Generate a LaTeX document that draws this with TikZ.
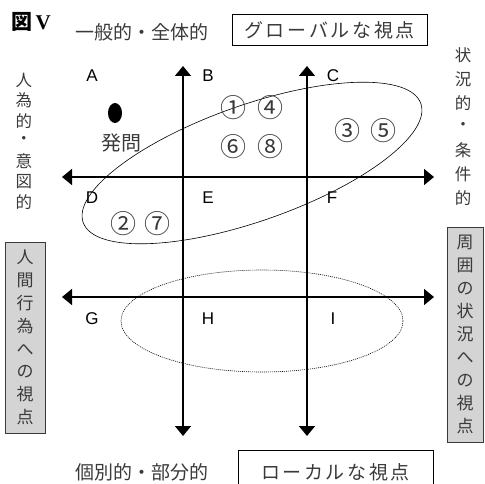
\documentclass[tikz,border=0pt]{standalone}
\usepackage{fontspec}
\setmainfont{Liberation Serif}
\setsansfont{Liberation Sans}
\newfontfamily\jp{Noto Sans CJK JP}
\newfontfamily\jpwide[LetterSpace=14]{Noto Sans CJK JP}
\usetikzlibrary{arrows.meta}

\definecolor{ink}{HTML}{3A3A3A}
\definecolor{panel}{HTML}{D4D4D4}
\definecolor{loop}{HTML}{555555}

\begin{document}
\begin{tikzpicture}[
  x=1pt, y=-1pt,
  axis/.style={line width=1.6pt, draw=black,
    {Triangle[length=10pt,width=16pt]}-{Triangle[length=10pt,width=16pt]}},
  cell/.style={font=\sffamily\fontsize{17}{17}\selectfont, text=black},
  num/.style={font=\jp\fontsize{26}{26}\selectfont, text=ink, inner sep=0pt},
  caption/.style={font=\jp\fontsize{19}{19}\selectfont, text=ink},
  tategaki/.style={font=\jp\fontsize{16.5}{16.5}\selectfont, text=ink, inner sep=0pt},
  frame/.style={draw=black, line width=1pt, inner sep=0pt,
    font=\jpwide\fontsize{19}{19}\selectfont, text=ink},
  side/.style={draw=ink, fill=panel, line width=0.9pt, inner sep=0pt, align=center, text=ink}
]
\useasboundingbox (0,0) rectangle (485,484);
\clip (0,0) rectangle (485,484);

% axis end points
\coordinate (v1t) at (183,66);
\coordinate (v1b) at (183,436);
\coordinate (v2t) at (307,66);
\coordinate (v2b) at (307,436);
\coordinate (h1l) at (62,177);
\coordinate (h1r) at (434,177);
\coordinate (h2l) at (62,297);
\coordinate (h2r) at (434,297);

% grouping ellipses
\draw[loop, line width=0.6pt, rotate around={19.4:(252,163)}] (252,163) ellipse [x radius=179, y radius=58];
\draw[loop, line width=0.6pt, dash pattern=on 1pt off 1pt] (262,321) ellipse [x radius=141, y radius=51];

% axes
\draw[axis] (v1t) -- (v1b);
\draw[axis] (v2t) -- (v2b);
\draw[axis] (h1l) -- (h1r);
\draw[axis] (h2l) -- (h2r);

% cell letters
\node[cell] (A) at (92,76) {A};
\node[cell] (B) at (208,76) {B};
\node[cell] (C) at (333,76) {C};
\node[cell] (D) at (92,198) {D};
\node[cell] (E) at (208,198) {E};
\node[cell] (F) at (332,198) {F};
\node[cell] (G) at (92,319) {G};
\node[cell] (H) at (208,319) {H};
\node[cell] (I) at (333,319) {I};

% question mark dot and numbers
\fill (115,113) ellipse [x radius=7, y radius=10];
\node[caption, font=\jp\fontsize{20}{20}\selectfont] (hatsumon) at (121,143) {発問};
\node[num] (n1) at (233,108) {①};
\node[num] (n4) at (270,108) {④};
\node[num] (n6) at (233,147) {⑥};
\node[num] (n8) at (270,147) {⑧};
\node[num] (n3) at (347,131) {③};
\node[num] (n5) at (383,131) {⑤};
\node[num] (n2) at (123,224) {②};
\node[num] (n7) at (157,224) {⑦};

% title and axis captions
\node[font=\bfseries\fontsize{21}{21}\selectfont] (title) at (31,22) {\jp 図\,\rmfamily V};
\node[caption] (global) at (142,32) {一般的・全体的};
\node[caption] (local) at (142,472) {個別的・部分的};
\node[frame, minimum width=195, minimum height=31] (gview) at (329.5,30.5) {グローバルな視点};
\node[frame, minimum width=195, minimum height=44] (lview) at (335.5,472) {ローカルな視点};

% vertical captions, one glyph per node
\foreach \ch [count=\i] in {人,為,的,・,意,図,的}
  \node[tategaki] (human-\i) at (24,{80+(\i-1)*20.3}) {\ch};
\foreach \ch [count=\i] in {状,況,的,・,条,件,的}
  \node[tategaki] (cond-\i) at (463,{55+(\i-1)*23.8}) {\ch};

\node[side, minimum width=40, minimum height=191, font=\jp\fontsize{17}{22.8}\selectfont] (hview) at (25,337.5)
  {人\\間\\行\\為\\へ\\の\\視\\点};
\node[side, minimum width=36, minimum height=215, font=\jp\fontsize{17}{23.1}\selectfont] (sview) at (465,334.5)
  {周\\囲\\の\\状\\況\\へ\\の\\視\\点};
\end{tikzpicture}
\end{document}
